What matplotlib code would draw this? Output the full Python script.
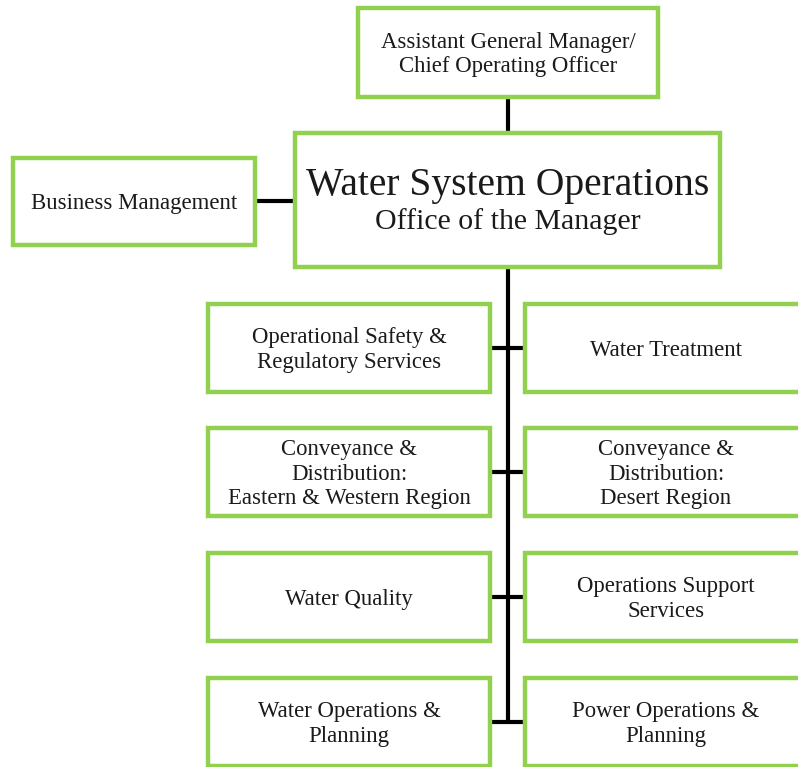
import matplotlib
matplotlib.use("Agg")
import matplotlib.pyplot as plt
from matplotlib.patches import Rectangle

W, H = 798, 767
GREEN = "#92D050"

top_label = "Assistant General Manager/\nChief Operating Officer"
main_title = "Water System Operations"
main_sub = "Office of the Manager"
side_label = "Business Management"
left_labels = [
    "Operational Safety &\nRegulatory Services",
    "Conveyance &\nDistribution:\nEastern & Western Region",
    "Water Quality",
    "Water Operations &\nPlanning",
]
right_labels = [
    "Water Treatment",
    "Conveyance &\nDistribution:\nDesert Region",
    "Operations Support\nServices",
    "Power Operations &\nPlanning",
]

plt.rcParams["font.family"] = ["Liberation Serif", "DejaVu Serif"]

fig = plt.figure(figsize=(W / 100, H / 100), dpi=100)
ax = fig.add_axes([0, 0, 1, 1])
ax.set_xlim(0, W)
ax.set_ylim(H, 0)
ax.axis("off")

LW = 3.2
FS = 16.4
LS = 1.22
DY = 2


def box(x0, y0, x1, y1, text=None, fs=FS, ls=LS):
    ax.add_patch(Rectangle((x0, y0), x1 - x0, y1 - y0, facecolor="white",
                           edgecolor=GREEN, linewidth=LW, zorder=3, clip_on=False))
    if text:
        ax.text((x0 + x1) / 2, (y0 + y1) / 2 + DY, text, ha="center", va="center",
                fontsize=fs, color="#1a1a1a", linespacing=ls, zorder=4)


def line(xs, ys):
    ax.plot(xs, ys, color="black", linewidth=3, zorder=2, solid_capstyle="butt")


# connectors
line([508, 508], [97, 133])
line([255, 295], [201, 201])
row_tops = [304, 428, 553, 678]
row_h = 88
centers = [t + row_h / 2 for t in row_tops]
line([508, 508], [267, centers[-1] + 1.5])
for c in centers:
    line([490, 525], [c, c])

# boxes
box(358, 8, 658, 97, top_label)
box(13, 158, 255, 245, side_label)
box(295, 133, 720, 267)
ax.text(508, 186, main_title, ha="center", va="center", fontsize=28.5, color="#1a1a1a", zorder=4)
ax.text(508, 222, main_sub, ha="center", va="center", fontsize=21.5, color="#1a1a1a", zorder=4)

for t, lab in zip(row_tops, left_labels):
    box(208, t, 490, t + row_h, lab)
for t, lab in zip(row_tops, right_labels):
    box(525, t, 818, t + row_h, None)
    ax.text(666, t + row_h / 2 + DY, lab, ha="center", va="center", fontsize=FS,
            color="#1a1a1a", linespacing=LS, zorder=4)

fig.savefig("out.png", dpi=100)
